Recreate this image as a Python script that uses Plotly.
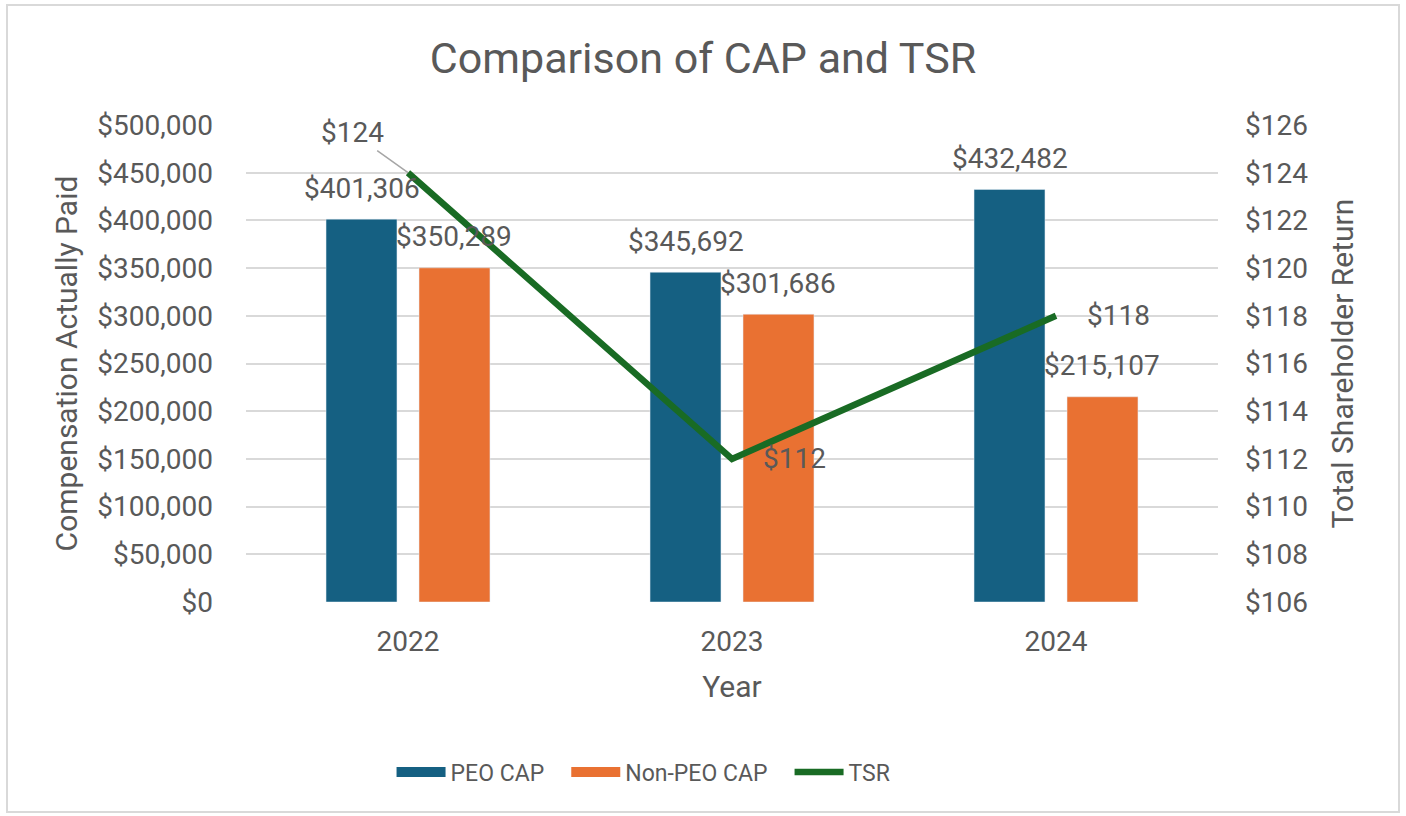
import plotly.graph_objects as go

# Chart data
years = ["2022", "2023", "2024"]
peo_cap = [401306, 345692, 432482]
non_peo_cap = [350289, 301686, 215107]
tsr = [124, 112, 118]

left_ticks = [0, 50000, 100000, 150000, 200000, 250000, 300000, 350000, 400000, 450000, 500000]
right_ticks = [106, 108, 110, 112, 114, 116, 118, 120, 122, 124, 126]

BLUE = "#156082"
ORANGE = "#E97132"
GREEN = "#196B24"
TEXT = "#595959"
GRID = "#D9D9D9"
FONT = "Roboto, Arial, sans-serif"

W, H = 1406, 816
ML, MR, MT, MB = 246, 188, 125, 214
BARGAP = 0.426
GROUPGAP = 0.237

fig = go.Figure()

fig.add_trace(go.Bar(x=years, y=peo_cap, name="PEO CAP", marker_color=BLUE,
                     showlegend=False, hoverinfo="y"))
fig.add_trace(go.Bar(x=years, y=non_peo_cap, name="Non-PEO CAP", marker_color=ORANGE,
                     showlegend=False, hoverinfo="y"))
fig.add_trace(go.Scatter(x=years, y=tsr, name="TSR", yaxis="y2", mode="lines",
                         line=dict(color=GREEN, width=6.5), showlegend=False))

# Legend entries drawn as wide swatches (trailing spaces widen the gap between entries)
GAP = "\u00a0" * 3
fig.add_trace(go.Scatter(x=[None], y=[None], mode="lines", name="PEO CAP" + GAP,
                         line=dict(color=BLUE, width=14)))
fig.add_trace(go.Scatter(x=[None], y=[None], mode="lines", name="Non-PEO CAP" + GAP,
                         line=dict(color=ORANGE, width=14)))
fig.add_trace(go.Scatter(x=[None], y=[None], mode="lines", name="TSR",
                         line=dict(color=GREEN, width=6.5)))

# Pixel offset of each bar centre from its category centre
plot_w = W - ML - MR
slot = plot_w / len(years) * (1 - BARGAP) / 2
bar_shift = slot / 2

# On a category axis, annotation x is the category's serial number
annotations = []
for i, v in enumerate(peo_cap):
    annotations.append(dict(x=i, y=v, xref="x", yref="y", text=f"${v:,}", showarrow=False,
                            xshift=-bar_shift, yshift=31, yanchor="middle"))
for i, v in enumerate(non_peo_cap):
    annotations.append(dict(x=i, y=v, xref="x", yref="y", text=f"${v:,}", showarrow=False,
                            xshift=bar_shift, yshift=31, yanchor="middle"))

# TSR labels
annotations.append(dict(x=0, y=tsr[0], xref="x", yref="y2", text=f"${tsr[0]}",
                        showarrow=True, arrowhead=0, arrowwidth=1.5, arrowcolor="#A6A6A6",
                        ax=-56, ay=-40))
for i in (1, 2):
    annotations.append(dict(x=i, y=tsr[i], xref="x", yref="y2", text=f"${tsr[i]}",
                            showarrow=False, xanchor="left", xshift=29, yanchor="middle"))

fig.update_layout(
    width=W, height=H,
    margin=dict(l=ML, r=MR, t=MT, b=MB),
    paper_bgcolor="white", plot_bgcolor="white",
    font=dict(family=FONT, size=28, color=TEXT),
    title=dict(text="Comparison of CAP and TSR", x=0.5, xref="container",
               y=1 - 58 / H, yref="container", yanchor="middle",
               font=dict(size=43, color=TEXT)),
    barmode="group", bargap=BARGAP, bargroupgap=GROUPGAP,
    xaxis=dict(type="category", categoryorder="array", categoryarray=years,
               range=[-0.5, len(years) - 0.5],
               title=dict(text="Year", font=dict(size=30), standoff=18),
               showgrid=False, showline=False, ticks="", ticklabelstandoff=20),
    yaxis=dict(title=dict(text="Compensation Actually Paid", font=dict(size=30), standoff=10),
               range=[0, 500000], tickvals=left_ticks,
               ticktext=[f"${t:,}" for t in left_ticks],
               showgrid=True, gridcolor=GRID, gridwidth=2, zeroline=False,
               showline=False, ticks="", ticklabelstandoff=32),
    yaxis2=dict(title=dict(text="Total Shareholder Return", font=dict(size=30), standoff=24),
                overlaying="y", side="right", range=[106, 126], tickvals=right_ticks,
                ticktext=[f"${t}" for t in right_ticks],
                showgrid=False, zeroline=False, showline=False, ticks="",
                ticklabelstandoff=26),
    legend=dict(orientation="h", x=0.409, xanchor="center", y=(602 - 772) / 477,
                yanchor="middle", font=dict(size=23), itemwidth=49),
    annotations=annotations,
    shapes=[dict(type="rect", xref="paper", yref="paper",
                 x0=(7 - ML) / plot_w, x1=(1399 - ML) / plot_w,
                 y0=(602 - 812) / (H - MT - MB), y1=(602 - 5) / (H - MT - MB),
                 line=dict(color=GRID, width=2), layer="below")],
)

fig.write_html("out.html")
